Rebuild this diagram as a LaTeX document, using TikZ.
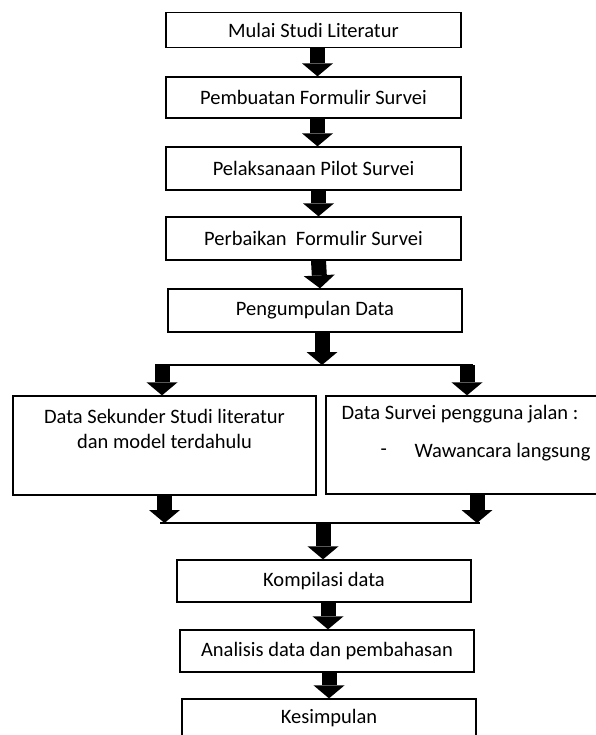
\documentclass[tikz,border=0pt]{standalone}
\usepackage{fontspec}
\setmainfont{Carlito}
\usetikzlibrary{arrows.meta,positioning}

\tikzset{
  steptext/.style={font=\fontsize{20.5}{25}\selectfont},
  stepbox/.style={draw,line width=1.3pt,minimum width=295pt,minimum height=41pt,inner sep=0pt,steptext},
  blockarrow/.style={line width=15pt,-{Triangle[width=31pt,length=13pt,line width=0pt]}},
  joinline/.style={line width=1.5pt}
}

\begin{document}
\begin{tikzpicture}[x=1pt,y=-1pt]
  \useasboundingbox (0,0) rectangle (595,735);
  % main chain
  \node[stepbox,minimum height=35pt] (mulai) at (313.5,30) {Mulai Studi Literatur};
  \node[stepbox] (formulir) at (313.5,97.5) {Pembuatan Formulir Survei};
  \node[stepbox,minimum height=43pt] (pilot) at (313.5,168.5) {Pelaksanaan Pilot Survei};
  \node[stepbox,minimum height=43pt] (perbaikan) at (313.5,238.5) {Perbaikan\ \ Formulir Survei};
  \node[stepbox,minimum height=43pt,minimum width=294pt] (pengumpulan) at (315,310.5) {Pengumpulan Data};
  \draw[blockarrow] ([xshift=4pt]mulai.south) -- ([xshift=4pt]formulir.north);
  \draw[blockarrow] ([xshift=4pt]formulir.south) -- ([xshift=4pt]pilot.north);
  \draw[blockarrow] ([xshift=5pt]pilot.south) -- ([xshift=5pt]perbaikan.north);
  \draw[blockarrow] ([xshift=5pt]perbaikan.south) -- ([xshift=5pt]pengumpulan.north);

  % split into two data sources
  \coordinate (splitL) at (155,365);
  \coordinate (splitR) at (473,365);
  \draw[joinline] (splitL) -- (splitR);
  \draw[blockarrow] ([xshift=7pt]pengumpulan.south) -- ([xshift=7pt]pengumpulan.south |- splitL);
  \node[stepbox,minimum width=303pt,minimum height=99pt] (sekunder) at (164.5,445.5) {};
  \node[stepbox,minimum width=314pt,minimum height=98pt] (survei) at (483,445) {};
  \draw[blockarrow] ([xshift=-2.5pt]sekunder.north |- splitL) -- ([xshift=-2.5pt]sekunder.north);
  \draw[blockarrow] ([xshift=-16pt]survei.north |- splitR) -- ([xshift=-16pt]survei.north);
  \node[steptext,align=center] (sekunderText) at ([yshift=-34pt]sekunder.north) {Data Sekunder Studi literatur\\dan model terdahulu};
  \node[steptext,anchor=west,inner sep=0pt] (surveiHead) at ([xshift=16pt,yshift=-19pt]survei.north west) {Data Survei pengguna jalan :};
  \node[steptext,anchor=west,inner sep=0pt] (surveiDash) at ([xshift=55pt,yshift=-57pt]survei.north west) {-};
  \node[steptext,anchor=west,inner sep=0pt] (surveiItem) at ([xshift=89pt,yshift=-57pt]survei.north west) {Wawancara langsung};

  % merge
  \coordinate (mergeL) at (160,523);
  \coordinate (mergeR) at (480,523);
  \draw[joinline] (mergeL) -- (mergeR);
  \draw[blockarrow] (sekunder.south) -- (sekunder.south |- mergeL);
  \draw[blockarrow] ([xshift=-6pt]survei.south) -- ([xshift=-6pt]survei.south |- mergeR);
  \node[stepbox,minimum width=294pt,minimum height=42pt] (kompilasi) at (324,581) {Kompilasi data};
  \node[stepbox,minimum width=294pt,minimum height=42pt] (analisis) at (327,651) {Analisis data dan pembahasan};
  \node[stepbox,minimum width=294pt,minimum height=38pt] (kesimpulan) at (329,718) {Kesimpulan};
  \draw[blockarrow] ([xshift=-1pt]kompilasi.north |- mergeL) -- ([xshift=-1pt]kompilasi.north);
  \draw[blockarrow] ([xshift=4pt]kompilasi.south) -- ([xshift=4pt]kompilasi.south |- analisis.north);
  \draw[blockarrow] ([xshift=2pt]analisis.south) -- ([xshift=2pt]analisis.south |- kesimpulan.north);
\end{tikzpicture}
\end{document}
